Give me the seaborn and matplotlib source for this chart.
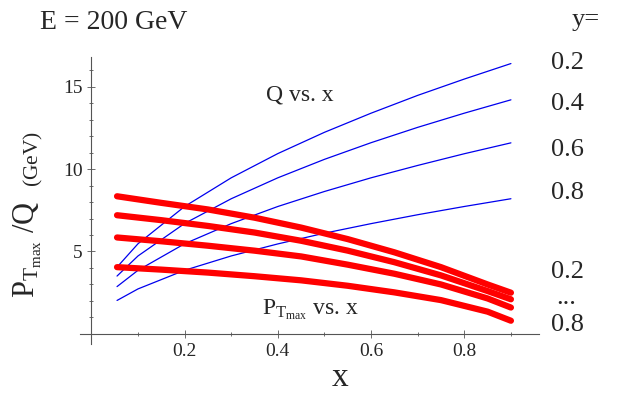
import matplotlib
matplotlib.use("Agg")
import matplotlib.pyplot as plt
import seaborn as sns
import pandas as pd
from matplotlib.ticker import MultipleLocator

x_q = [0.055, 0.1, 0.2, 0.3, 0.4, 0.5, 0.6, 0.7, 0.8, 0.9]
q_y02 = [4.05, 5.47, 7.73, 9.47, 10.94, 12.23, 13.39, 14.47, 15.46, 16.40]
q_y04 = [3.51, 4.73, 6.70, 8.20, 9.47, 10.59, 11.60, 12.53, 13.39, 14.20]
q_y06 = [2.87, 3.86, 5.47, 6.69, 7.73, 8.64, 9.47, 10.22, 10.93, 11.59]
q_y08 = [2.03, 2.73, 3.86, 4.73, 5.46, 6.11, 6.69, 7.23, 7.73, 8.20]

x_p = [0.055, 0.15, 0.25, 0.35, 0.45, 0.55, 0.65, 0.75, 0.85, 0.9]
p_y02 = [8.35, 7.95, 7.55, 7.05, 6.45, 5.75, 4.95, 4.05, 3.0, 2.5]
p_y04 = [7.2, 6.9, 6.55, 6.15, 5.65, 5.05, 4.35, 3.55, 2.6, 2.1]
p_y06 = [5.85, 5.62, 5.35, 5.05, 4.7, 4.2, 3.65, 3.0, 2.15, 1.6]
p_y08 = [4.05, 3.9, 3.72, 3.5, 3.25, 2.92, 2.52, 2.05, 1.35, 0.8]

right_labels = ["0.2", "0.4", "0.6", "0.8"]

plt.rcParams["mathtext.fontset"] = "custom"
plt.rcParams["mathtext.rm"] = "Liberation Serif"
plt.rcParams["mathtext.it"] = "Liberation Serif"
sns.set_style("ticks")
fig = plt.figure(figsize=(6.23, 4.04), dpi=100)
ax = fig.add_axes([0.128, 0.149, 0.737, 0.71])
serif = "Liberation Serif"

for ys in [q_y02, q_y04, q_y06, q_y08]:
    sns.lineplot(data=pd.DataFrame({"x": x_q, "v": ys}), x="x", y="v", ax=ax,
                 color="#0000ee", lw=0.9)
for ys in [p_y02, p_y04, p_y06, p_y08]:
    sns.lineplot(data=pd.DataFrame({"x": x_p, "v": ys}), x="x", y="v", ax=ax,
                 color="#ff0000", lw=4.5, solid_capstyle="round")

ax.set_xlim(-0.025, 0.96)
ax.set_ylim(-0.6, 16.8)
ax.spines["left"].set_position(("data", 0))
ax.spines["bottom"].set_position(("data", 0))
ax.spines["right"].set_visible(False)
ax.spines["top"].set_visible(False)
for s in ["left", "bottom"]:
    ax.spines[s].set_color("#555555")
    ax.spines[s].set_linewidth(0.8)
ax.set_xticks([0.2, 0.4, 0.6, 0.8])
ax.set_yticks([5, 10, 15])
ax.xaxis.set_minor_locator(MultipleLocator(0.1))
ax.yaxis.set_minor_locator(MultipleLocator(1))
ax.tick_params(which="both", direction="inout", color="#555555", width=0.6)
ax.tick_params(which="major", length=6, labelsize=14)
ax.tick_params(which="minor", length=3)
for lab in ax.get_xticklabels() + ax.get_yticklabels():
    lab.set_fontfamily(serif)
ax.set_xlabel("")
ax.set_ylabel("")

fig.text(0.065, 0.945, "E = 200 GeV", fontsize=20, family=serif, va="center")
fig.text(0.918, 0.95, "y=", fontsize=19, family=serif, va="center")
for lab, py in zip(right_labels, [63, 104, 150, 193]):
    fig.text(0.885, 1 - py / 404, lab, fontsize=19, family=serif, va="center")
fig.text(0.885, 1 - 272 / 404, "0.2", fontsize=19, family=serif, va="center")
fig.text(0.893, 1 - 298 / 404, "...", fontsize=19, family=serif, va="center")
fig.text(0.885, 1 - 325 / 404, "0.8", fontsize=19, family=serif, va="center")
fig.text(300 / 623, 1 - 95 / 404, "Q vs. x", fontsize=17, family=serif,
         ha="center", va="center")
fig.text(310 / 623, 1 - 310 / 404, r"P$_{\mathregular{T_{max}}}$ vs. x", fontsize=17,
         family=serif, ha="center", va="center")
fig.text(340 / 623, 1 - 378 / 404, "x", fontsize=24, family=serif,
         ha="center", va="center")
fig.text(0.045, 1 - 215 / 404,
         r"P$_{\mathregular{T_{max}}}$ /Q  $_{\mathregular{(GeV)}}$",
         fontsize=22, family=serif, rotation=90, ha="center", va="center")
fig.savefig("out.png", dpi=100)
